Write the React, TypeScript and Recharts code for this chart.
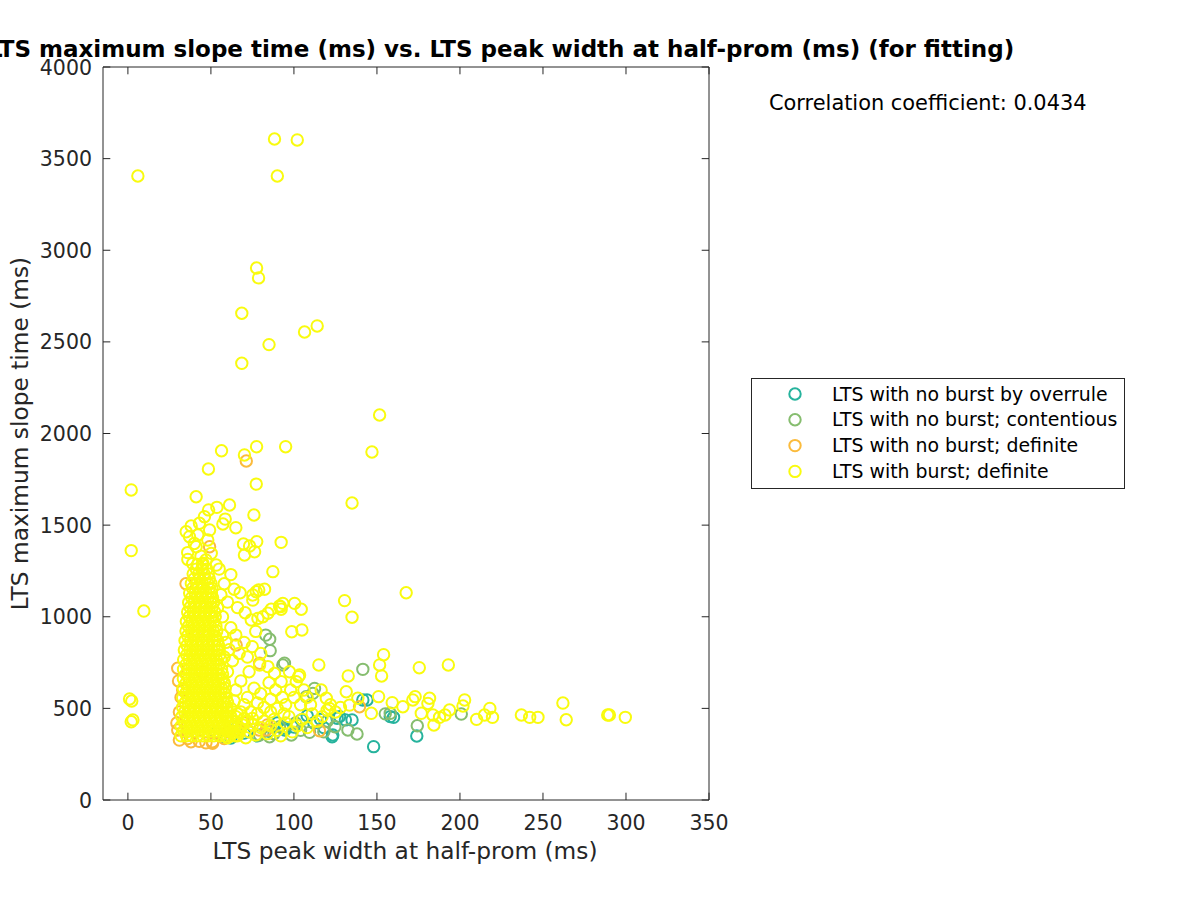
import React from 'react';
import { ScatterChart, Scatter, XAxis, YAxis, ReferenceLine } from 'recharts';

const X_TICKS = [0, 50, 100, 150, 200, 250, 300, 350];
const Y_TICKS = [0, 500, 1000, 1500, 2000, 2500, 3000, 3500, 4000];

const SERIES_NAMES = [
  'LTS with no burst by overrule',
  'LTS with no burst; contentious',
  'LTS with no burst; definite',
  'LTS with burst; definite',
];
const SERIES_COLORS = ['#26b39d', '#86bd6f', '#fbbb3c', '#f9fb0e'];

const CORRELATION = 0.0434;

// [peak width, max slope time]
const overrulePts: [number, number][] = [
  [148, 291], [174, 349], [160, 451], [123, 345], [126, 446], [131, 437], [144, 546],
  [158, 455], [127.5, 455], [135, 437], [100, 398], [94, 393], [104.5, 437], [62, 338],
  [70, 365], [85, 375], [112, 420], [118, 395], [108, 460], [90, 420], [78, 350],
  [53, 364], [66, 400], [94.5, 382], [123.4, 355], [141.5, 546], [116, 440],
];

const contentiousPts: [number, number][] = [
  [141.5, 713], [174.3, 405], [138, 360], [132.5, 382], [124.7, 400], [109.4, 369],
  [111.4, 582], [93.3, 737], [85.7, 815], [83, 900], [85.4, 877], [158, 473],
  [200.8, 469], [94.3, 746], [107.4, 564], [112.4, 609], [91.3, 400], [98.4, 355],
  [79.3, 355], [85.3, 345], [73, 372], [65, 352], [104, 380], [118, 372], [120, 430],
  [101, 420], [88, 362], [58, 345], [155, 470],
];

const definitePts: [number, number][] = [
  [71.3, 1850], [139.5, 509], [115.4, 378], [49.2, 1382], [30, 719], [30, 382],
  [31, 327], [51, 318], [43, 320], [67, 382], [79, 382], [65.2, 846], [79.3, 746],
  [83.3, 382], [51, 309], [33, 600], [31, 480], [29.5, 420], [36, 335], [58, 335],
  [70, 420], [84, 410], [30.5, 650], [32, 560], [40, 900], [45, 700], [38, 318],
  [47, 312], [60, 372], [35, 1180],
];

// dense core of the burst cloud: [max slope time, widths in that row]
const burstCoreRows: [number, number[]][] = [
  [350, [32, 35.3, 38.6, 41.9, 45.2, 48.5, 51.8, 55.1, 58.4, 61.7, 64.5]],
  [376, [33.6, 36.9, 40.2, 43.5, 46.8, 50.1, 53.4, 56.7, 60, 63.3, 66]],
  [402, [32, 35.3, 38.6, 41.9, 45.2, 48.5, 51.8, 55.1, 58.4, 61.7, 64.6]],
  [428, [33.8, 37.1, 40.4, 43.7, 47, 50.3, 53.6, 56.9, 60.2, 63.2]],
  [454, [32.5, 35.8, 39.1, 42.4, 45.7, 49, 52.3, 55.6, 58.9, 62]],
  [480, [34.2, 37.5, 40.8, 44.1, 47.4, 50.7, 54, 57.3, 60.4]],
  [506, [33, 36.3, 39.6, 42.9, 46.2, 49.5, 52.8, 56.1, 59.4]],
  [532, [34.6, 37.9, 41.2, 44.5, 47.8, 51.1, 54.4, 57.7, 60]],
  [558, [33, 36.3, 39.6, 42.9, 46.2, 49.5, 52.8, 56.1, 59.2]],
  [584, [34.9, 38.2, 41.5, 44.8, 48.1, 51.4, 54.7, 58]],
  [610, [33.3, 36.6, 39.9, 43.2, 46.5, 49.8, 53.1, 56.4, 58.6]],
  [636, [34.9, 38.2, 41.5, 44.8, 48.1, 51.4, 54.7, 57.9]],
  [662, [33.4, 36.7, 40, 43.3, 46.6, 49.9, 53.2, 56.5]],
  [688, [35, 38.3, 41.6, 44.9, 48.2, 51.5, 54.8, 57]],
  [714, [33.5, 36.8, 40.1, 43.4, 46.7, 50, 53.3, 56.4]],
  [740, [35.1, 38.4, 41.7, 45, 48.3, 51.6, 54.9]],
  [766, [33.6, 36.9, 40.2, 43.5, 46.8, 50.1, 53.4, 56]],
  [792, [35.4, 38.7, 42, 45.3, 48.6, 51.9, 55.2]],
  [818, [34, 37.3, 40.6, 43.9, 47.2, 50.5, 53.8, 55]],
  [844, [35.6, 38.9, 42.2, 45.5, 48.8, 52.1, 54.5]],
  [870, [34.4, 37.7, 41, 44.3, 47.6, 50.9, 54]],
  [896, [36, 39.3, 42.6, 45.9, 49.2, 52.5]],
  [922, [35, 38.3, 41.6, 44.9, 48.2, 51.5, 53.5]],
  [948, [36.5, 39.8, 43.1, 46.4, 49.7, 53]],
  [974, [35.2, 38.5, 41.8, 45.1, 48.4, 51.7]],
  [1000, [37, 40.3, 43.6, 46.9, 50.2, 52.6]],
  [1026, [36, 39.3, 42.6, 45.9, 49.2, 52.3]],
  [1052, [37.5, 40.8, 44.1, 47.4, 50.7]],
  [1078, [36.6, 39.9, 43.2, 46.5, 49.8, 51.6]],
  [1104, [38.4, 41.7, 45, 48.3, 51]],
  [1130, [37.2, 40.5, 43.8, 47.1, 50.3]],
  [1156, [39, 42.3, 45.6, 48.9, 50.6]],
  [1182, [38.2, 41.5, 44.8, 48.1, 50]],
  [1208, [40, 43.3, 46.6, 49]],
  [1234, [39.3, 42.6, 45.9, 48.4]],
  [1260, [41.2, 44.5, 47.5]],
  [1285, [42, 45]],
];

// burst points fanning out to the right of the core
const burstFan: [number, number][] = [
  [60, 340], [63, 365], [66, 350], [68, 390], [71, 340], [73, 372], [75, 410], [77, 355],
  [80, 395], [82, 430], [84, 362], [86, 405], [88, 440], [90, 380], [92, 350], [95, 420],
  [97, 455], [99, 372], [102, 405], [105, 440], [108, 395], [111, 470], [114, 430],
  [117, 455], [120, 490], [122, 520], [125, 480], [128, 505], [131.5, 591], [133.5, 518],
  [138.5, 555], [146.6, 473], [151, 564], [152.8, 677], [151.6, 737], [165.6, 509],
  [159.2, 531], [171.6, 546], [173, 564], [176.7, 473], [180.7, 527], [181.7, 555],
  [183.7, 464], [184.3, 409], [187.7, 451], [191, 464], [193.7, 491], [201.8, 513],
  [202.8, 546], [210, 440], [214.8, 464], [218, 500], [219.6, 451], [237, 464],
  [242, 451], [247, 451], [262, 529], [264, 438], [289, 464], [290, 464], [299.6, 451],
  [115, 737], [154, 793], [175.5, 722], [193, 737],
  [60, 460], [62, 500], [64, 540], [65, 600], [66, 470], [68, 650], [70, 520], [72, 560],
  [73, 700], [74, 480], [76, 610], [78, 530], [79.3, 737], [80, 580], [82, 505],
  [84.3, 728], [85, 640], [86, 550], [88.3, 691], [89, 600], [90, 500], [92.3, 646],
  [93, 560], [95, 520], [97.3, 700], [98, 600], [100, 560], [101.4, 646], [102.8, 673],
  [103.4, 682], [104, 520], [106, 600], [108, 560], [110, 520], [116.4, 600], [119.5, 555],
  [121.4, 500], [132.7, 677], [63, 430], [70, 445], [78, 470], [86, 480], [94, 470],
  [67, 370], [69, 410], [72, 430], [65, 455], [68, 480], [75, 445],
  [58, 780], [59, 860], [61, 820], [62, 940], [63, 760], [65, 900], [67, 800], [70, 860],
  [70.6, 1022], [72, 780], [74.3, 982], [74.9, 837], [77, 920], [78.3, 991], [80, 800],
  [81.3, 1000], [84.3, 1019], [86.3, 1041], [91.9, 1055], [92.3, 1041], [98.7, 918],
  [104.8, 928], [100.4, 1073], [104.4, 1041], [91.3, 1059], [93.3, 1073], [82.3, 1150],
  [77.3, 1137], [75.2, 1091], [67.6, 1131], [75.2, 1119], [78.8, 1146], [87.3, 1246],
  [54, 1050], [56, 1120], [57, 1000], [58, 1180], [60, 1080], [62, 1230], [64, 1150],
  [55, 1260], [66, 1050], [57, 900], [60, 700], [58, 640],
];

// sparse burst points above the core
const burstUpper: [number, number][] = [
  [36.1, 1313], [45.1, 1292], [53.2, 1282], [41.1, 1382], [50.2, 1346], [48.1, 1419],
  [37.1, 1437], [42.1, 1446], [49.2, 1473], [35.1, 1464], [38.1, 1495], [43.1, 1510],
  [46.1, 1546], [48.6, 1583], [53.6, 1597], [61.2, 1610], [58.6, 1533], [57.2, 1506],
  [65, 1486], [75.9, 1555], [41.1, 1655], [48.5, 1806], [56.4, 1906], [69.6, 1397],
  [73.3, 1386], [77.6, 1410], [70.2, 1337], [76.3, 1355], [92.3, 1406], [77.3, 1724],
  [70.2, 1883], [77.5, 1928], [95, 1928], [40, 1400], [36, 1350], [44, 1330], [39, 1290],
  [47, 1310],
];

const burstOutliers: [number, number][] = [
  [6, 3405], [88.3, 3607], [102, 3602], [90, 3405], [77.5, 2903], [78.7, 2849],
  [68.6, 2656], [106.4, 2554], [114, 2587], [85, 2485], [68.6, 2383], [151.6, 2101],
  [147, 1899], [135, 1621], [2, 1692], [2, 1361], [9.6, 1031], [1, 551], [2.3, 540],
  [2, 427], [3, 437], [167.6, 1131], [130.5, 1088], [135, 997],
];

const toPoints = (pts: [number, number][]) => pts.map(([x, y]) => ({ x, y }));

const burstPts = [
  ...burstCoreRows.flatMap(([y, xs]) => xs.map((x) => ({ x, y }))),
  ...toPoints(burstFan),
  ...toPoints(burstUpper),
  ...toPoints(burstOutliers),
];

const seriesData = [
  toPoints(overrulePts),
  toPoints(contentiousPts),
  toPoints(definitePts),
  burstPts,
];

const FONT = "'DejaVu Sans', sans-serif";
const AXIS = '#262626';
const PLOT = { left: 103, right: 709, top: 67, bottom: 800 };
const TICK_LEN = 7.3;
const MARKER_R = 5.7;

const ring = (color: string) => (props: any) => (
  <circle cx={props.cx} cy={props.cy} r={MARKER_R} fill="none" stroke={color} strokeWidth={2} />
);

const XTick = (props: any) => {
  const { x, y, payload } = props;
  return (
    <g>
      <line x1={x} y1={y} x2={x} y2={y - TICK_LEN} stroke={AXIS} />
      <line x1={x} y1={PLOT.top} x2={x} y2={PLOT.top + TICK_LEN} stroke={AXIS} />
      <text x={x} y={y + 30} textAnchor="middle" fill={AXIS} fontSize={20.5} fontFamily={FONT}>
        {payload.value}
      </text>
    </g>
  );
};

const YTick = (props: any) => {
  const { x, y, payload } = props;
  return (
    <g>
      <line x1={x} y1={y} x2={x + TICK_LEN} y2={y} stroke={AXIS} />
      <line x1={PLOT.right} y1={y} x2={PLOT.right - TICK_LEN} y2={y} stroke={AXIS} />
      <text x={x - 11} y={y + 7.5} textAnchor="end" fill={AXIS} fontSize={20.5} fontFamily={FONT}>
        {payload.value}
      </text>
    </g>
  );
};

export default function App() {
  return (
    <div style={{ position: 'absolute', left: 0, top: 0, width: 1200, height: 900, background: '#fff' }}>
      <ScatterChart
        width={1200}
        height={900}
        margin={{ top: PLOT.top, right: 1200 - PLOT.right, bottom: 900 - PLOT.bottom - 40, left: PLOT.left - 60 }}
      >
        <XAxis
          type="number"
          dataKey="x"
          domain={[-15, 350]}
          ticks={X_TICKS}
          allowDataOverflow
          height={40}
          tickSize={0}
          tickMargin={0}
          tick={<XTick />}
          axisLine={{ stroke: AXIS }}
          interval={0}
        />
        <YAxis
          type="number"
          dataKey="y"
          domain={[0, 4000]}
          ticks={Y_TICKS}
          allowDataOverflow
          width={60}
          tickSize={0}
          tickMargin={0}
          tick={<YTick />}
          axisLine={{ stroke: AXIS }}
          interval={0}
        />
        <ReferenceLine y={4000} stroke={AXIS} />
        <ReferenceLine x={350} stroke={AXIS} />
        {seriesData.map((d, i) => (
          <Scatter
            key={SERIES_NAMES[i]}
            name={SERIES_NAMES[i]}
            data={d}
            shape={ring(SERIES_COLORS[i])}
            isAnimationActive={false}
          />
        ))}
      </ScatterChart>
      <svg
        width={1200}
        height={900}
        style={{ position: 'absolute', left: 0, top: 0, pointerEvents: 'none' }}
        fontFamily={FONT}
      >
        <text x={501} y={57} textAnchor="middle" fontSize={23} fontWeight="bold" fill="#000">
          LTS maximum slope time (ms) vs. LTS peak width at half-prom (ms) (for fitting)
        </text>
        <text x={405} y={859} textAnchor="middle" fontSize={23.3} fill={AXIS}>
          LTS peak width at half-prom (ms)
        </text>
        <text
          x={0}
          y={0}
          transform="translate(28 433.5) rotate(-90)"
          textAnchor="middle"
          fontSize={23.3}
          fill={AXIS}
        >
          LTS maximum slope time (ms)
        </text>
        <text x={769} y={110} fontSize={20.9} fill="#000">
          Correlation coefficient: {CORRELATION}
        </text>
        <rect x={751.5} y={378.5} width={373} height={110} fill="#fff" stroke={AXIS} strokeWidth={1} />
        {SERIES_NAMES.map((name, i) => {
          const cy = 394 + i * 25.8;
          return (
            <g key={name}>
              <circle cx={795} cy={cy} r={MARKER_R} fill="none" stroke={SERIES_COLORS[i]} strokeWidth={2} />
              <text x={832} y={cy + 6.5} fontSize={18.9} fill="#000">
                {name}
              </text>
            </g>
          );
        })}
      </svg>
    </div>
  );
}
